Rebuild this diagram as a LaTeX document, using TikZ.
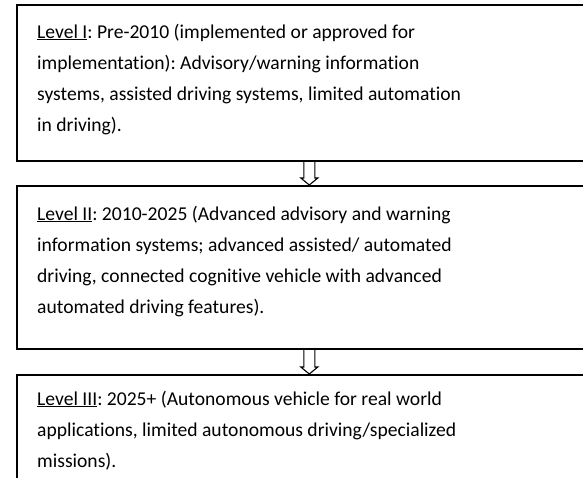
\documentclass[tikz,border=0pt]{standalone}
\usepackage{fontspec}
\setmainfont[Ligatures=NoCommon]{Carlito}
\frenchspacing
\begin{document}
\begin{tikzpicture}[x=1pt,y=1pt,
  box/.style={draw, rectangle, line width=1.6pt, minimum width=600pt, anchor=north west, inner sep=0pt},
  txt/.style={anchor=base west, align=left, inner sep=0pt, font=\fontsize{19.6}{31}\selectfont},
  hollow/.style={draw, line width=1.1pt}]
\useasboundingbox (0,0) rectangle (583,-477);
\node[box, minimum height=156pt] (b1) at (16,-4) {};
\node[box, minimum height=163pt] (b2) at (16,-185) {};
\node[box, minimum height=130pt] (b3) at (16,-374) {};
\node[txt] (t1) at ([xshift=21, yshift=-127]b1.north west) {\underline{Level I}: Pre-2010 (implemented or approved for\\
implementation): Advisory/warning information\\
systems, assisted driving systems, limited automation\\
in driving).};
\node[txt] (t2) at ([xshift=21, yshift=-128]b2.north west) {\underline{Level II}: 2010-2025 (Advanced advisory and warning\\
information systems; advanced assisted/ automated\\
driving, connected cognitive vehicle with advanced\\
automated driving features).};
\node[txt] (t3) at ([xshift=21, yshift=-93]b3.north west) {\underline{Level III}: 2025+ (Autonomous vehicle for real world\\
applications, limited autonomous driving/specialized\\
missions).};
\coordinate (a1s) at ([xshift=-7.5]b1.south);
\coordinate (a1t) at ([xshift=-7.5]b2.north);
\coordinate (a2s) at ([xshift=-7.5]b2.south);
\coordinate (a2t) at ([xshift=-7.5]b3.north);
\draw[hollow] ([xshift=-5.5]a1s) |- ([xshift=-8.5,yshift=7]a1t) -- (a1t) -- ([xshift=8.5,yshift=7]a1t) -| ([xshift=5.5]a1s);
\draw[hollow] ([xshift=-5.5]a2s) |- ([xshift=-8.5,yshift=7]a2t) -- (a2t) -- ([xshift=8.5,yshift=7]a2t) -| ([xshift=5.5]a2s);
\end{tikzpicture}
\end{document}
